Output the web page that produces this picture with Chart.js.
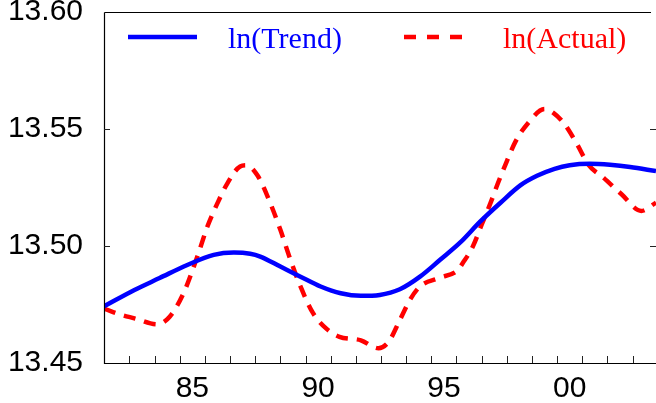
<!DOCTYPE html>
<html lang="en">
<head>
  <meta charset="UTF-8" />
  <title>ln(Trend) vs ln(Actual)</title>
  <script src="https://cdn.jsdelivr.net/npm/chart.js"></script>
  <style>
    body { margin: 0; background: #fff; }
    .wrap { width: 656px; height: 403px; position: relative; }
  </style>
</head>
<body>
  <div class="wrap"><canvas id="trendChart"></canvas></div>

  <script>
    // data (x in years)
    const trendYears = [1981.49, 1982.7, 1983.7, 1984.8, 1985.85, 1986.65, 1987.3, 1987.7, 1988.5, 1989.3,
      1990.1, 1990.9, 1991.7, 1992.45, 1993.25, 1994.05, 1994.85, 1995.65, 1996.45, 1997.25,
      1998.05, 1998.7, 1999.4, 2000.0, 2000.8, 2001.6, 2002.4, 2003.43];
    const trendValues = [13.4742, 13.4812, 13.4863, 13.4919, 13.4962, 13.4972, 13.4967, 13.4955, 13.4912, 13.4869,
      13.4827, 13.4798, 13.4787, 13.4791, 13.4815, 13.4869, 13.4941, 13.5015, 13.5105, 13.5185,
      13.5260, 13.5300, 13.5330, 13.5345, 13.5351, 13.5347, 13.5338, 13.5320];

    const actualYears = [1981.49, 1982.2, 1982.7, 1983.6, 1984.1, 1984.65, 1985.2, 1985.6, 1986.0, 1986.4,
      1986.9, 1987.15, 1987.6, 1988.1, 1988.5, 1988.9, 1989.3, 1989.8, 1990.35, 1990.85,
      1991.7, 1992.4, 1992.8, 1993.25, 1993.65, 1994.05, 1994.8, 1995.55, 1995.75, 1996.15,
      1996.5, 1996.85, 1997.15, 1997.5, 1997.85, 1998.35, 1999.0, 1999.35, 1999.8, 2000.3,
      2000.75, 2001.35, 2002.05, 2002.85, 2003.43];
    const actualValues = [13.4732, 13.4705, 13.4691, 13.4665, 13.4698, 13.4798, 13.4955, 13.5083, 13.5183, 13.5269,
      13.5340, 13.5345, 13.5300, 13.5183, 13.5069, 13.4941, 13.4827, 13.4713, 13.4645, 13.4612,
      13.4597, 13.4563, 13.4590, 13.4684, 13.4770, 13.4827, 13.4863, 13.4897, 13.4927, 13.4998,
      13.5091, 13.5183, 13.5269, 13.5362, 13.5447, 13.5526, 13.5585, 13.5569, 13.5520, 13.5433,
      13.5347, 13.5291, 13.5222, 13.5150, 13.5185];

    const xLabelYears = [1985, 1990, 1995, 2000];
    const xMinorTicks = [1982.5, 1983.5, 1984.5, 1985.5, 1986.5, 1987.5, 1988.5, 1989.5, 1990.5, 1991.5,
      1992.5, 1993.5, 1994.5, 1995.5, 1996.5, 1997.5, 1998.5, 1999.5, 2000.5, 2001.5, 2002.5];
    const yTicks = [13.45, 13.50, 13.55, 13.60];
    const legendLabels = ['ln(Trend)', 'ln(Actual)'];

    const toPoints = (xs, ys) => xs.map((x, i) => ({ x: x, y: ys[i] }));

    // frame, inward tick marks and the legend inside the plot
    const framePlugin = {
      id: 'frame',
      afterDraw(chart) {
        const ctx = chart.ctx;
        const a = chart.chartArea;
        const xs = chart.scales.x;
        const ys = chart.scales.y;
        ctx.save();
        ctx.strokeStyle = '#000';
        ctx.lineWidth = 1.2;
        ctx.beginPath();
        ctx.moveTo(a.left + 0.5, a.top + 0.5);
        ctx.lineTo(a.right - 5, a.top + 0.5);
        ctx.moveTo(a.left + 0.5, a.top + 0.5);
        ctx.lineTo(a.left + 0.5, a.bottom + 0.5);
        ctx.lineTo(a.right, a.bottom + 0.5);
        ctx.stroke();

        ctx.strokeStyle = '#222';
        ctx.lineWidth = 1;
        ctx.beginPath();
        xMinorTicks.forEach(v => {
          const px = Math.round(xs.getPixelForValue(v)) + 0.5;
          ctx.moveTo(px, a.bottom);
          ctx.lineTo(px, a.bottom - 7);
        });
        yTicks.slice(1, -1).forEach(v => {
          const py = Math.round(ys.getPixelForValue(v)) + 0.5;
          ctx.moveTo(a.left, py);
          ctx.lineTo(a.left + 6, py);
          ctx.moveTo(a.right, py);
          ctx.lineTo(a.right - 6, py);
        });
        ctx.stroke();

        // legend
        ctx.lineWidth = 4.5;
        ctx.lineCap = 'butt';
        ctx.strokeStyle = '#0000ff';
        ctx.beginPath();
        ctx.moveTo(128, 37);
        ctx.lineTo(197, 37);
        ctx.stroke();
        ctx.strokeStyle = '#ff0000';
        ctx.setLineDash([12, 11]);
        ctx.beginPath();
        ctx.moveTo(404, 37);
        ctx.lineTo(462, 37);
        ctx.stroke();
        ctx.setLineDash([]);

        ctx.font = '30px "Liberation Serif", "Times New Roman", serif';
        ctx.textBaseline = 'alphabetic';
        ctx.fillStyle = '#0000ff';
        ctx.fillText(legendLabels[0], 228, 48);
        ctx.fillStyle = '#ff0000';
        ctx.fillText(legendLabels[1], 503, 48);
        ctx.restore();
      }
    };

    const noPad = scale => {
      scale.paddingTop = 0;
      scale.paddingBottom = 0;
      scale.paddingLeft = 0;
      scale.paddingRight = 0;
    };

    const ctx = document.getElementById('trendChart').getContext('2d');
    const chart = new Chart(ctx, {
      type: 'line',
      data: {
        datasets: [{
          label: legendLabels[0],
          data: toPoints(trendYears, trendValues),
          borderColor: '#0000ff',
          borderWidth: 4.5,
          pointRadius: 0,
          cubicInterpolationMode: 'monotone'
        }, {
          label: legendLabels[1],
          data: toPoints(actualYears, actualValues),
          borderColor: '#ff0000',
          borderWidth: 4.5,
          borderDash: [12, 9],
          pointRadius: 0,
          cubicInterpolationMode: 'monotone'
        }]
      },
      options: {
        responsive: true,
        maintainAspectRatio: false,
        animation: false,
        layout: { padding: { top: 12, left: 0, right: 0, bottom: 0 }, autoPadding: false },
        plugins: { legend: { display: false }, tooltip: { enabled: false } },
        scales: {
          x: {
            type: 'linear',
            min: 1981.49,
            max: 2003.43,
            grid: { display: false, drawTicks: false },
            border: { display: false },
            afterBuildTicks: scale => { scale.ticks = xLabelYears.map(v => ({ value: v })); },
            afterFit: scale => { scale.height = 40; noPad(scale); },
            ticks: {
              autoSkip: false,
              maxRotation: 0,
              padding: 8,
              color: '#000',
              font: { family: '"Liberation Sans", Arial, sans-serif', size: 30 },
              callback: value => String(value % 100).padStart(2, '0')
            }
          },
          y: {
            min: 13.45,
            max: 13.60,
            grid: { display: false, drawTicks: false },
            border: { display: false },
            afterBuildTicks: scale => { scale.ticks = yTicks.map(v => ({ value: v })); },
            afterFit: scale => { scale.width = 104; noPad(scale); },
            ticks: {
              padding: 21,
              color: '#000',
              font: { family: '"Liberation Sans", Arial, sans-serif', size: 30 },
              callback: value => value.toFixed(2)
            }
          }
        }
      },
      plugins: [framePlugin]
    });
  </script>
</body>
</html>
